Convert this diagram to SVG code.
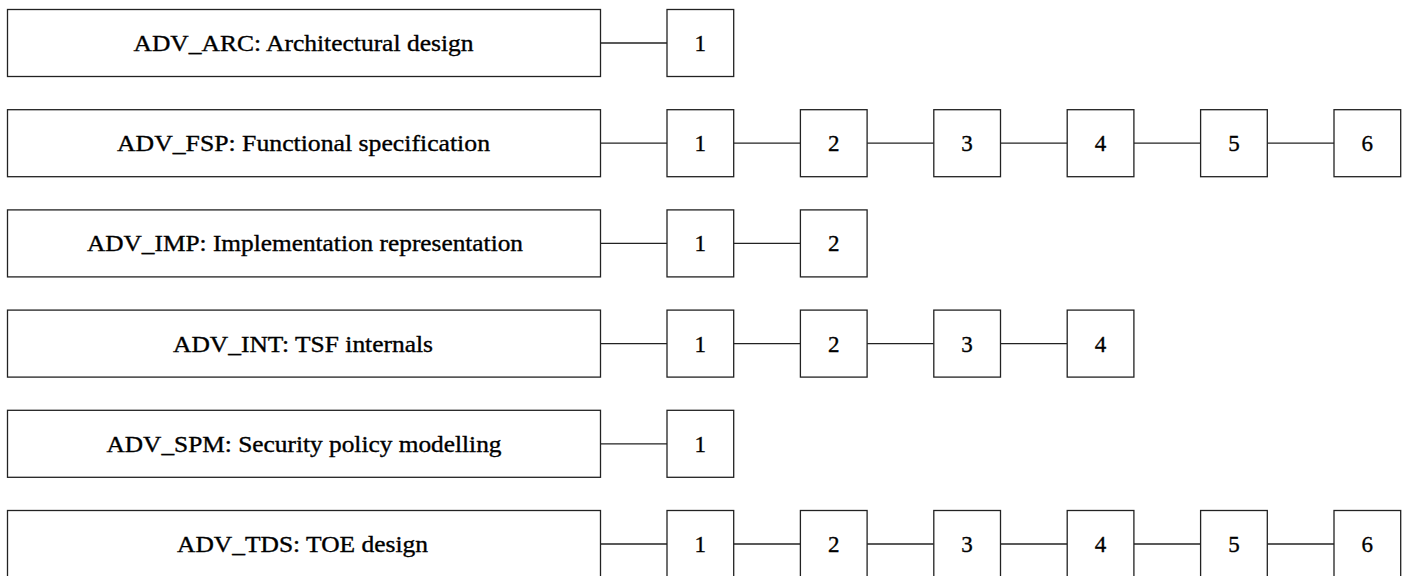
<svg xmlns="http://www.w3.org/2000/svg" width="1408" height="576" viewBox="0 0 1408 576">
<style>
rect{fill:#fff;stroke:#222;stroke-width:1.3}
line{stroke:#222;stroke-width:1.3}
text{font-family:'Liberation Serif','Times New Roman',serif;font-size:23px;fill:#000;stroke:#000;stroke-width:0.35;text-anchor:middle}
</style>
<rect x="0" y="0" width="1408" height="576" style="stroke:none"/>
<g id="connectors">
<line x1="600.5" y1="43" x2="667" y2="43"/>
<line x1="600.5" y1="143.2" x2="667" y2="143.2"/>
<line x1="733.7" y1="143.2" x2="800.4" y2="143.2"/>
<line x1="867.1" y1="143.2" x2="933.8" y2="143.2"/>
<line x1="1000.5" y1="143.2" x2="1067.2" y2="143.2"/>
<line x1="1133.9" y1="143.2" x2="1200.6" y2="143.2"/>
<line x1="1267.3" y1="143.2" x2="1334" y2="143.2"/>
<line x1="600.5" y1="243.4" x2="667" y2="243.4"/>
<line x1="733.7" y1="243.4" x2="800.4" y2="243.4"/>
<line x1="600.5" y1="343.6" x2="667" y2="343.6"/>
<line x1="733.7" y1="343.6" x2="800.4" y2="343.6"/>
<line x1="867.1" y1="343.6" x2="933.8" y2="343.6"/>
<line x1="1000.5" y1="343.6" x2="1067.2" y2="343.6"/>
<line x1="600.5" y1="443.8" x2="667" y2="443.8"/>
<line x1="600.5" y1="544" x2="667" y2="544"/>
<line x1="733.7" y1="544" x2="800.4" y2="544"/>
<line x1="867.1" y1="544" x2="933.8" y2="544"/>
<line x1="1000.5" y1="544" x2="1067.2" y2="544"/>
<line x1="1133.9" y1="544" x2="1200.6" y2="544"/>
<line x1="1267.3" y1="544" x2="1334" y2="544"/>
</g>
<g id="arc"><rect x="7.5" y="9.5" width="593" height="67"/><text x="303.5" y="51" textLength="340" lengthAdjust="spacingAndGlyphs">ADV_ARC: Architectural design</text></g>
<g id="arc1"><rect x="667" y="9.5" width="66.7" height="67"/><text x="700.3" y="51">1</text></g>
<g id="fsp"><rect x="7.5" y="109.7" width="593" height="67"/><text x="303.5" y="151.2" textLength="373" lengthAdjust="spacingAndGlyphs">ADV_FSP: Functional specification</text></g>
<g id="fsp1"><rect x="667" y="109.7" width="66.7" height="67"/><text x="700.3" y="151.2">1</text></g>
<g id="fsp2"><rect x="800.4" y="109.7" width="66.7" height="67"/><text x="833.7" y="151.2">2</text></g>
<g id="fsp3"><rect x="933.8" y="109.7" width="66.7" height="67"/><text x="967.1" y="151.2">3</text></g>
<g id="fsp4"><rect x="1067.2" y="109.7" width="66.7" height="67"/><text x="1100.5" y="151.2">4</text></g>
<g id="fsp5"><rect x="1200.6" y="109.7" width="66.7" height="67"/><text x="1233.9" y="151.2">5</text></g>
<g id="fsp6"><rect x="1334" y="109.7" width="66.7" height="67"/><text x="1367.3" y="151.2">6</text></g>
<g id="imp"><rect x="7.5" y="209.9" width="593" height="67"/><text x="305" y="251.4" textLength="436" lengthAdjust="spacingAndGlyphs">ADV_IMP: Implementation representation</text></g>
<g id="imp1"><rect x="667" y="209.9" width="66.7" height="67"/><text x="700.3" y="251.4">1</text></g>
<g id="imp2"><rect x="800.4" y="209.9" width="66.7" height="67"/><text x="833.7" y="251.4">2</text></g>
<g id="int"><rect x="7.5" y="310.1" width="593" height="67"/><text x="303" y="351.6" textLength="260" lengthAdjust="spacingAndGlyphs">ADV_INT: TSF internals</text></g>
<g id="int1"><rect x="667" y="310.1" width="66.7" height="67"/><text x="700.3" y="351.6">1</text></g>
<g id="int2"><rect x="800.4" y="310.1" width="66.7" height="67"/><text x="833.7" y="351.6">2</text></g>
<g id="int3"><rect x="933.8" y="310.1" width="66.7" height="67"/><text x="967.1" y="351.6">3</text></g>
<g id="int4"><rect x="1067.2" y="310.1" width="66.7" height="67"/><text x="1100.5" y="351.6">4</text></g>
<g id="spm"><rect x="7.5" y="410.3" width="593" height="67"/><text x="304" y="451.8" textLength="395" lengthAdjust="spacingAndGlyphs">ADV_SPM: Security policy modelling</text></g>
<g id="spm1"><rect x="667" y="410.3" width="66.7" height="67"/><text x="700.3" y="451.8">1</text></g>
<g id="tds"><rect x="7.5" y="510.5" width="593" height="67"/><text x="302.5" y="552" textLength="251" lengthAdjust="spacingAndGlyphs">ADV_TDS: TOE design</text></g>
<g id="tds1"><rect x="667" y="510.5" width="66.7" height="67"/><text x="700.3" y="552">1</text></g>
<g id="tds2"><rect x="800.4" y="510.5" width="66.7" height="67"/><text x="833.7" y="552">2</text></g>
<g id="tds3"><rect x="933.8" y="510.5" width="66.7" height="67"/><text x="967.1" y="552">3</text></g>
<g id="tds4"><rect x="1067.2" y="510.5" width="66.7" height="67"/><text x="1100.5" y="552">4</text></g>
<g id="tds5"><rect x="1200.6" y="510.5" width="66.7" height="67"/><text x="1233.9" y="552">5</text></g>
<g id="tds6"><rect x="1334" y="510.5" width="66.7" height="67"/><text x="1367.3" y="552">6</text></g>
</svg>
